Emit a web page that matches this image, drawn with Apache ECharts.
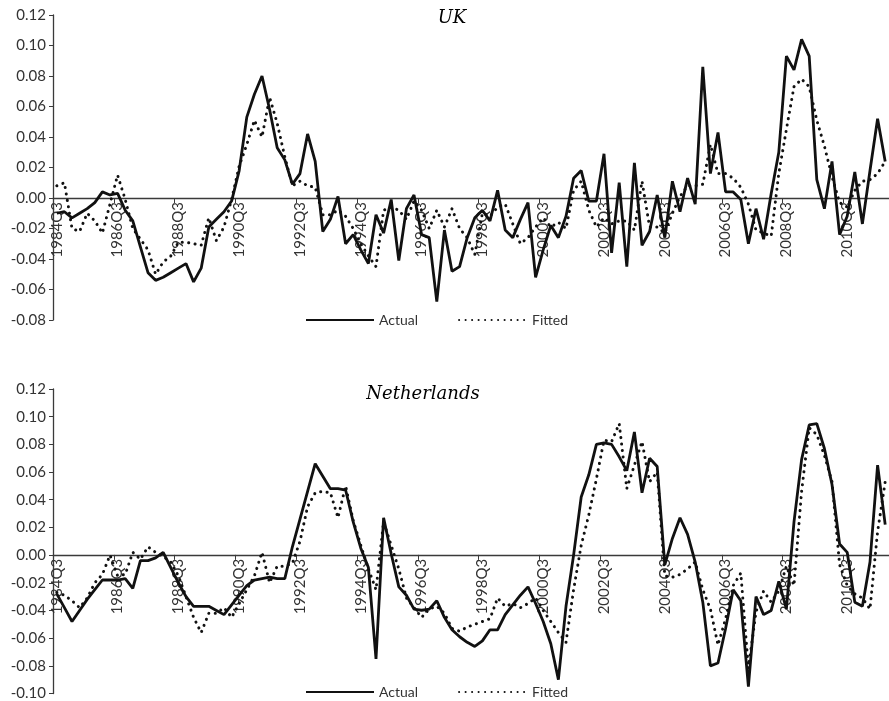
<!DOCTYPE html>
<html>
<head>
<meta charset="utf-8">
<script src="https://cdn.jsdelivr.net/npm/echarts@6/dist/echarts.min.js"></script>
<style>
  html, body { margin: 0; padding: 0; background: #fff; }
  #chart { width: 889px; height: 701px; }
</style>
</head>
<body>
<div id="chart"></div>
<script>
// Quarterly labels, 1984Q3 .. 2011Q4
const quarters = [];
for (let y = 1984; y <= 2011; y++) {
  for (let q = 1; q <= 4; q++) {
    if (y === 1984 && q < 3) continue;
    quarters.push(y + 'Q' + q);
  }
}

const ukActual = [
  -0.010,-0.009,-0.013,-0.010,-0.007,-0.003,0.004,0.002,0.003,-0.008,
  -0.015,-0.032,-0.049,-0.054,-0.052,-0.049,-0.046,-0.043,-0.055,-0.046,
  -0.019,-0.014,-0.009,-0.002,0.018,0.053,0.068,0.080,0.058,0.033,
  0.025,0.009,0.016,0.042,0.024,-0.022,-0.014,0.001,-0.030,-0.024,
  -0.034,-0.043,-0.011,-0.023,-0.001,-0.041,-0.007,0.002,-0.024,-0.026,
  -0.068,-0.021,-0.048,-0.045,-0.026,-0.013,-0.008,-0.015,0.005,-0.021,
  -0.026,-0.014,-0.003,-0.052,-0.034,-0.018,-0.026,-0.012,0.013,0.018,
  -0.002,-0.002,0.029,-0.036,0.010,-0.045,0.023,-0.031,-0.022,0.002,
  -0.026,0.011,-0.009,0.013,-0.004,0.086,0.016,0.043,0.004,0.004,
  -0.001,-0.030,-0.007,-0.027,0.003,0.030,0.093,0.084,0.104,0.093,
  0.012,-0.007,0.024,-0.024,-0.012,0.017,-0.017,0.018,0.052,0.024
];

const ukFitted = [
  0.008,0.010,-0.020,-0.022,-0.010,-0.015,-0.023,-0.004,0.015,-0.001,
  -0.020,-0.027,-0.034,-0.050,-0.042,-0.038,-0.029,-0.029,-0.030,-0.031,
  -0.013,-0.028,-0.019,-0.001,0.021,0.035,0.051,0.040,0.066,0.049,
  0.027,0.008,0.011,0.008,0.007,-0.011,-0.011,-0.008,-0.012,-0.020,
  -0.030,-0.038,-0.045,-0.008,-0.006,-0.008,-0.014,-0.002,-0.008,-0.020,
  -0.008,-0.019,-0.007,-0.020,-0.026,-0.037,-0.010,-0.012,-0.006,-0.004,
  -0.017,-0.030,-0.026,-0.019,-0.013,-0.019,-0.016,-0.020,0.005,0.011,
  -0.008,-0.019,-0.013,-0.017,-0.015,-0.015,-0.021,0.011,-0.019,-0.019,
  -0.023,-0.010,0.001,0.008,0.008,0.009,0.035,0.016,0.016,0.013,
  0.007,-0.004,-0.021,-0.023,-0.025,0.016,0.045,0.073,0.078,0.073,
  0.051,0.034,0.014,-0.003,-0.006,0.005,0.011,0.012,0.016,0.024
];

const nlActual = [
  -0.028,-0.038,-0.048,-0.040,-0.032,-0.025,-0.018,-0.018,-0.018,-0.017,
  -0.024,-0.004,-0.004,-0.002,0.002,-0.009,-0.020,-0.030,-0.037,-0.037,
  -0.037,-0.040,-0.043,-0.036,-0.029,-0.022,-0.018,-0.017,-0.016,-0.017,
  -0.017,0.006,0.026,0.046,0.066,0.057,0.048,0.048,0.047,0.024,
  0.005,-0.009,-0.075,0.027,0.001,-0.023,-0.029,-0.039,-0.040,-0.039,
  -0.033,-0.045,-0.054,-0.059,-0.063,-0.066,-0.062,-0.054,-0.054,-0.043,
  -0.036,-0.029,-0.023,-0.035,-0.048,-0.064,-0.090,-0.037,0.000,0.042,
  0.058,0.080,0.081,0.080,0.071,0.061,0.089,0.045,0.070,0.064,
  -0.007,0.012,0.027,0.015,-0.005,-0.034,-0.080,-0.078,-0.053,-0.025,
  -0.033,-0.095,-0.030,-0.043,-0.040,-0.019,-0.039,0.024,0.069,0.094,
  0.095,0.077,0.051,0.008,0.002,-0.034,-0.037,-0.005,0.065,0.022
];

const nlFitted = [
  -0.027,-0.029,-0.033,-0.038,-0.031,-0.020,-0.014,0.000,-0.015,-0.014,
  0.002,-0.003,0.006,0.002,-0.001,-0.005,-0.015,-0.030,-0.045,-0.056,
  -0.042,-0.042,-0.038,-0.045,-0.035,-0.025,-0.015,0.002,-0.020,-0.008,
  -0.008,-0.006,0.010,0.035,0.045,0.046,0.045,0.027,0.050,0.025,
  0.007,-0.010,-0.025,0.024,0.007,-0.010,-0.031,-0.038,-0.045,-0.039,
  -0.037,-0.042,-0.053,-0.055,-0.052,-0.050,-0.048,-0.046,-0.031,-0.037,
  -0.035,-0.038,-0.035,-0.031,-0.040,-0.048,-0.056,-0.063,-0.025,0.007,
  0.029,0.055,0.083,0.082,0.095,0.048,0.065,0.082,0.053,0.060,
  -0.015,-0.016,-0.014,-0.010,-0.005,-0.025,-0.039,-0.065,-0.046,-0.022,
  -0.013,-0.082,-0.041,-0.026,-0.034,-0.026,-0.008,-0.022,0.046,0.092,
  0.087,0.072,0.053,-0.007,-0.022,-0.028,-0.031,-0.039,0.017,0.053
];

const panelTitles = ['UK', 'Netherlands'];
const seriesNames = ['Actual', 'Fitted'];

// panel geometry: two stacked plot areas of equal height
const PLOT_LEFT = 53, PLOT_W = 836, PLOT_H = 305;
const panels = [
  { top: 15, min: -0.08, max: 0.12, legendMid: 320 },
  { top: 389, min: -0.10, max: 0.12, legendMid: 692 }
];

const FONT = 'Lato';
const INK = '#111';
const AXIS = '#3a3a3a';
const solidStyle = { color: INK, width: 2.8, type: 'solid' };
const dotStyle = { color: INK, width: 3, type: [0.1, 6.4], cap: 'round' };

// the category axis sits on the zero line of its panel
function xAxisFor(gi) {
  const p = panels[gi];
  const zeroFromBottom = PLOT_H * (0 - p.min) / (p.max - p.min);
  return {
    type: 'category', gridIndex: gi, data: quarters, boundaryGap: true,
    position: 'bottom', offset: -zeroFromBottom,
    axisLine: { onZero: false, lineStyle: { color: AXIS, width: 1.3 } },
    axisTick: { show: true, interval: 7, length: 5, lineStyle: { color: AXIS } },
    axisLabel: { interval: 7, rotate: 90, margin: 4, fontFamily: FONT, fontSize: 15, color: '#333' },
    splitLine: { show: false }
  };
}
function yAxisFor(gi) {
  const p = panels[gi];
  return {
    type: 'value', gridIndex: gi, min: p.min, max: p.max, interval: 0.02,
    axisLine: { show: true, onZero: false, lineStyle: { color: AXIS, width: 1.3 } },
    axisTick: { show: true, length: 4, lineStyle: { color: AXIS } },
    axisLabel: { margin: 7, fontFamily: FONT, fontSize: 15, color: '#333',
      formatter: v => v.toFixed(2) },
    splitLine: { show: false }
  };
}
function lineSeries(name, data, gi, style) {
  return {
    name: name, type: 'line', xAxisIndex: gi, yAxisIndex: gi, data: data,
    symbol: 'none', showSymbol: false, lineStyle: style, itemStyle: { color: INK },
    emphasis: { disabled: true }, z: name === 'Actual' ? 3 : 2
  };
}
function legendFor(gi) {
  return {
    top: panels[gi].legendMid - 7, left: 305, padding: 0,
    itemWidth: 68, itemHeight: 14, itemGap: 40,
    data: seriesNames, selectedMode: false,
    itemStyle: { opacity: 0 },
    textStyle: { fontFamily: FONT, fontSize: 14, color: '#333' }
  };
}

const chart = echarts.init(document.getElementById('chart'), null, { renderer: 'canvas' });
chart.setOption({
  animation: false,
  backgroundColor: '#fff',
  grid: panels.map(p => ({ left: PLOT_LEFT, top: p.top, width: PLOT_W, height: PLOT_H })),
  xAxis: [xAxisFor(0), xAxisFor(1)],
  yAxis: [yAxisFor(0), yAxisFor(1)],
  legend: [legendFor(0), legendFor(1)],
  graphic: [
    { type: 'text', x: 452, y: 18, style: { text: panelTitles[0], textAlign: 'center', textVerticalAlign: 'middle',
      font: 'italic 18px "DejaVu Serif"', fill: '#000' } },
    { type: 'text', x: 423, y: 394, style: { text: panelTitles[1], textAlign: 'center', textVerticalAlign: 'middle',
      font: 'italic 18px "DejaVu Serif"', fill: '#000' } }
  ],
  series: [
    lineSeries(seriesNames[1], ukFitted, 0, dotStyle),
    lineSeries(seriesNames[0], ukActual, 0, solidStyle),
    lineSeries(seriesNames[1], nlFitted, 1, dotStyle),
    lineSeries(seriesNames[0], nlActual, 1, solidStyle)
  ]
});
</script>
</body>
</html>
